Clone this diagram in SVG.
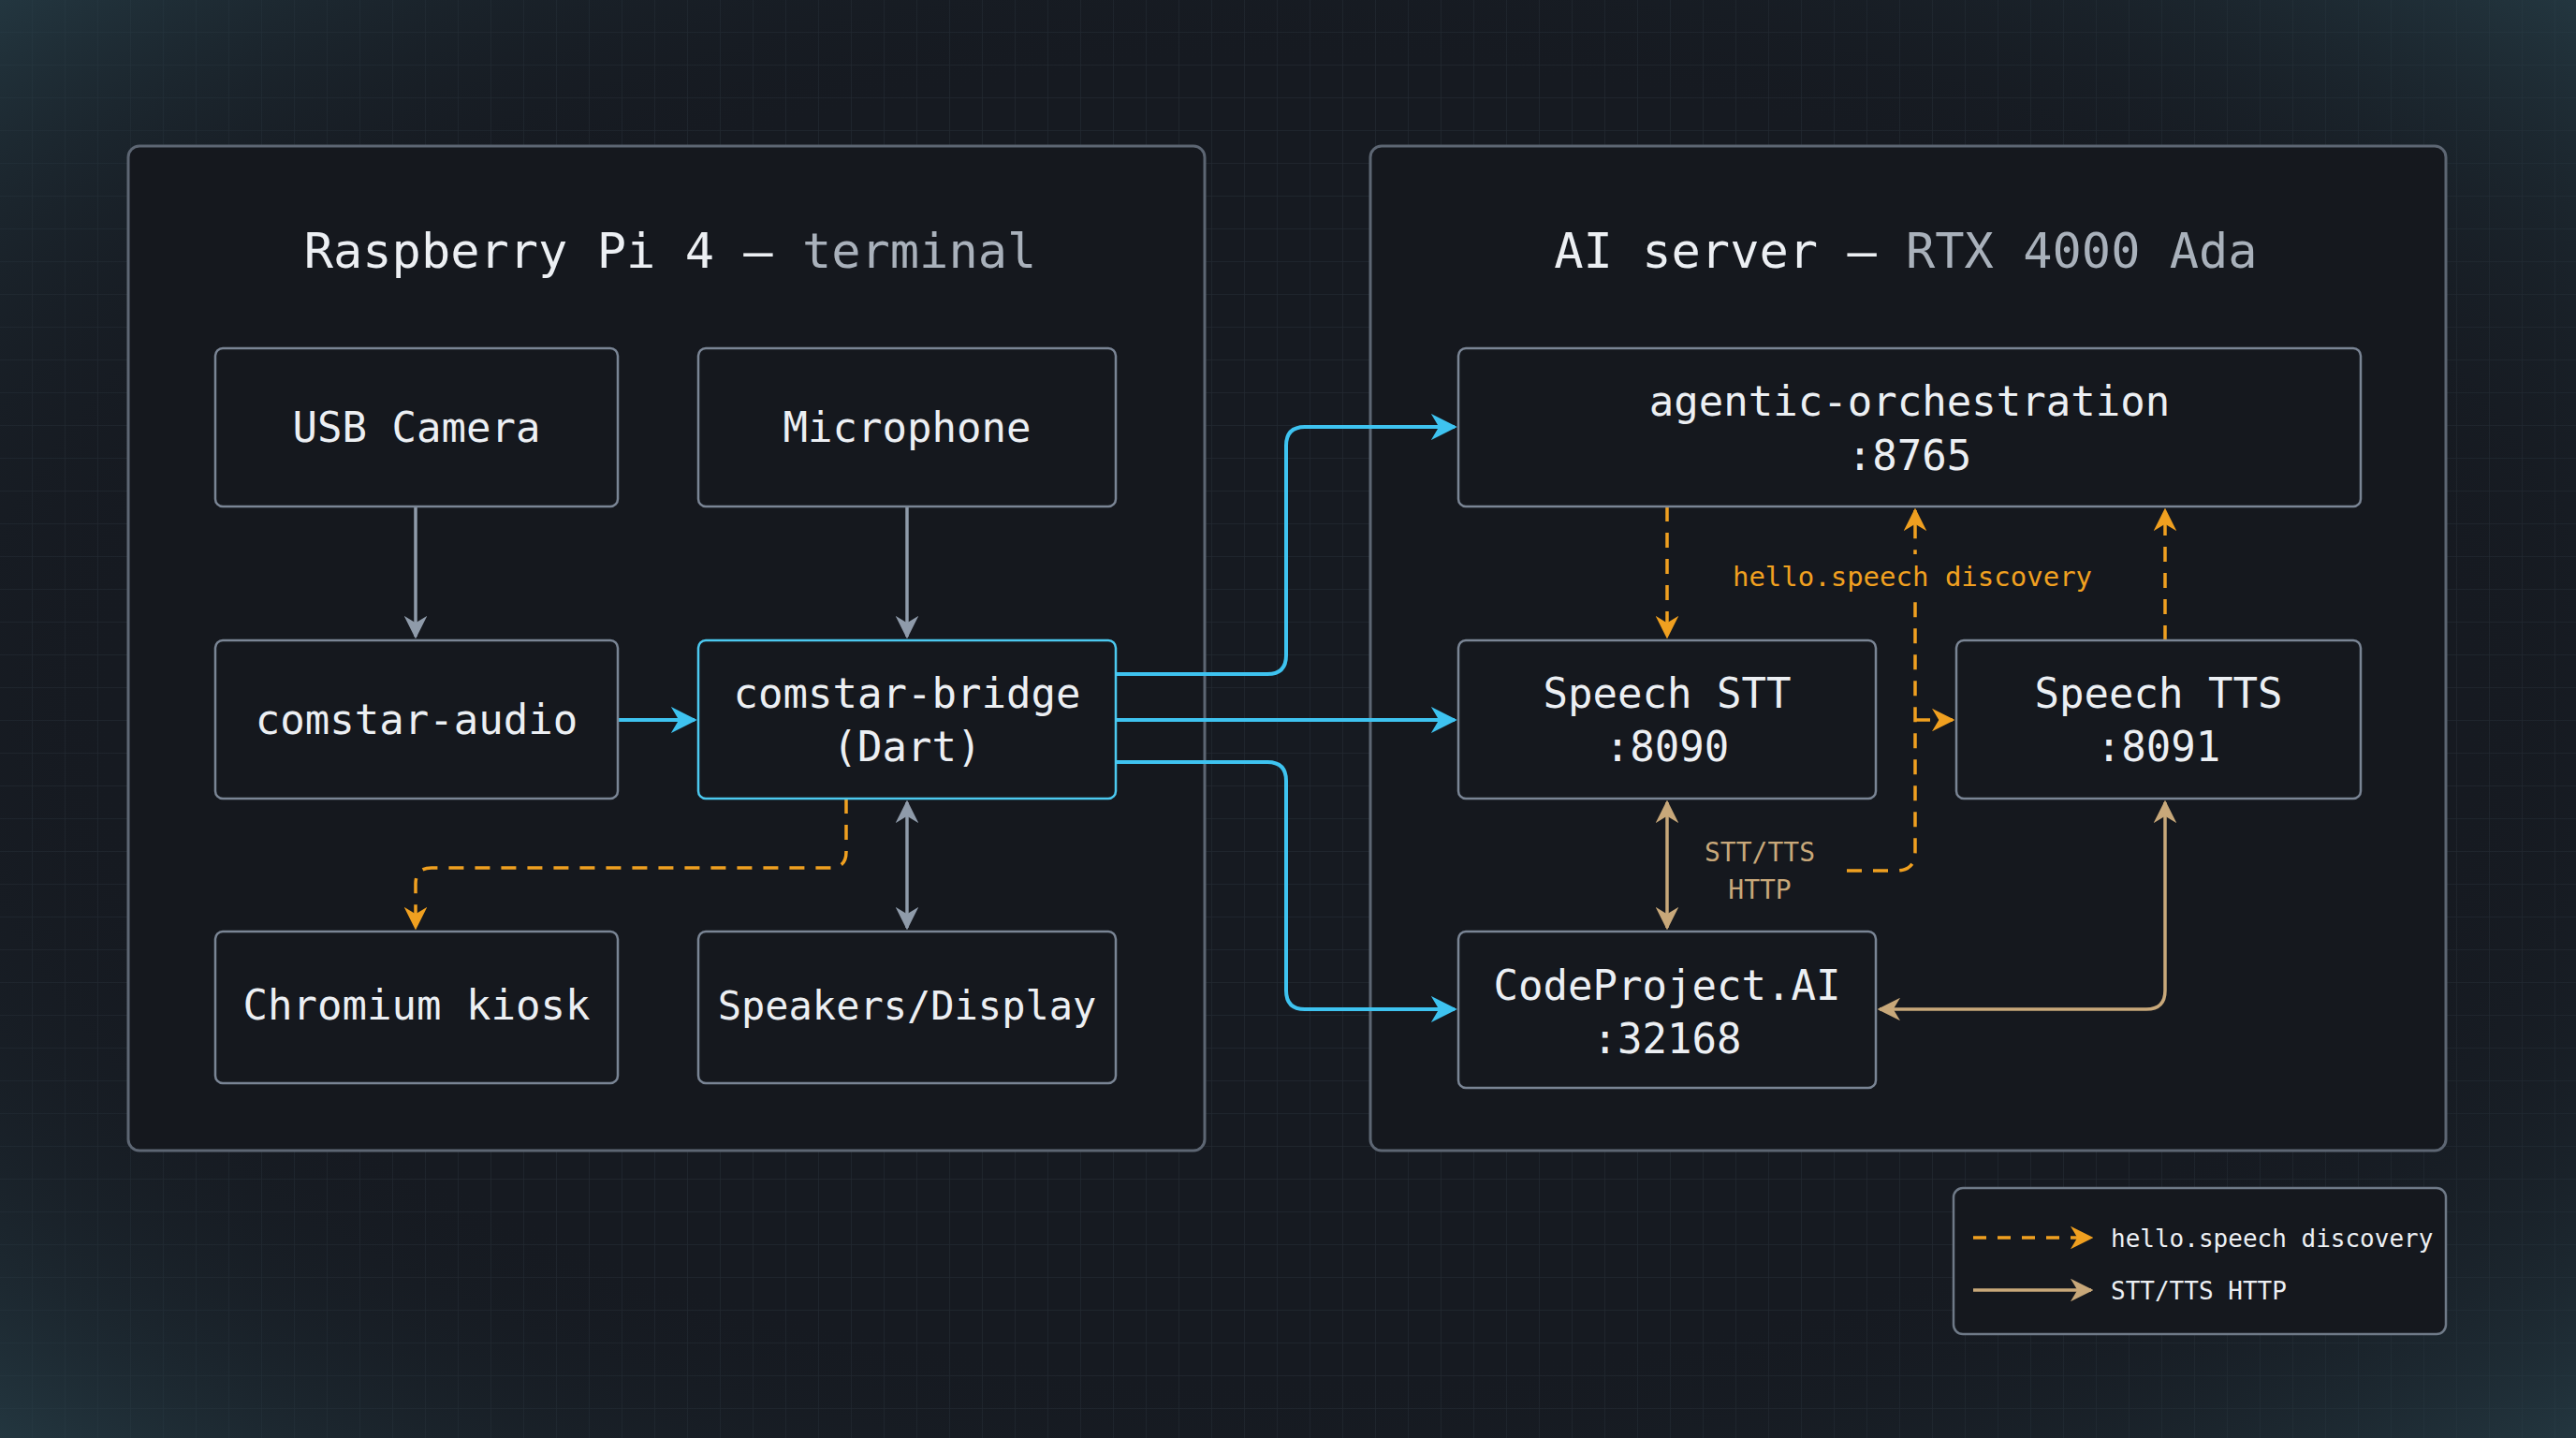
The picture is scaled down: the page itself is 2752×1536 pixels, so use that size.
<svg xmlns="http://www.w3.org/2000/svg" width="2752" height="1536" viewBox="0 0 2752 1536">
<defs>
<pattern id="grid" width="35" height="35" patternUnits="userSpaceOnUse"><path d="M35 0V35H0" fill="none" stroke="#2a323c" stroke-width="1.5" opacity="0.6"/></pattern>
<radialGradient id="vig" cx="50%" cy="50%" r="75%"><stop offset="60%" stop-color="#161a21" stop-opacity="0"/><stop offset="100%" stop-color="#2c4a55" stop-opacity="0.8"/></radialGradient>
<marker id="ac" viewBox="0 0 10 10" refX="9" refY="5" markerWidth="7" markerHeight="7" orient="auto-start-reverse"><path d="M0 0L10 5L0 10L3 5z" fill="#3ec3f0"/></marker>
<marker id="ag" viewBox="0 0 10 10" refX="9" refY="5" markerWidth="7" markerHeight="7" orient="auto-start-reverse"><path d="M0 0L10 5L0 10L3 5z" fill="#8f9baa"/></marker>
<marker id="ao" viewBox="0 0 10 10" refX="9" refY="5" markerWidth="7" markerHeight="7" orient="auto-start-reverse"><path d="M0 0L10 5L0 10L3 5z" fill="#f0a020"/></marker>
<marker id="at" viewBox="0 0 10 10" refX="9" refY="5" markerWidth="7" markerHeight="7" orient="auto-start-reverse"><path d="M0 0L10 5L0 10L3 5z" fill="#c8a87a"/></marker>
<style>
.panel{fill:#15181e;stroke:#5d6673;stroke-width:3}
.node{fill:#15181e;stroke:#7a8595;stroke-width:2.5}
.t{font-family:"DejaVu Sans Mono","Liberation Mono",monospace;fill:#eceff3;text-anchor:middle}
.nt{font-size:44px}
.ti{font-size:52px}
.c{fill:none;stroke:#3ec3f0;stroke-width:4}
.g{fill:none;stroke:#8f9baa;stroke-width:3.5}
.o{fill:none;stroke:#f0a020;stroke-width:3.5;stroke-dasharray:16 12}
.tn{fill:none;stroke:#c8a87a;stroke-width:3.5}
</style>
</defs>
<rect width="2752" height="1536" fill="#161a21"/>
<rect width="2752" height="1536" fill="url(#grid)"/>
<rect width="2752" height="1536" fill="url(#vig)"/>

<g id="panel-pi"><rect class="panel" x="137" y="156" width="1150" height="1073" rx="12"/>
<text class="t ti" x="716" y="286">Raspberry Pi 4 — <tspan fill="#a9b1bb">terminal</tspan></text></g>
<g id="panel-ai"><rect class="panel" x="1464" y="156" width="1149" height="1073" rx="12"/>
<text class="t ti" x="2036" y="286">AI server — <tspan fill="#a9b1bb">RTX 4000 Ada</tspan></text></g>

<g id="connectors">
<path class="g" d="M444 541V680" marker-end="url(#ag)"/>
<path class="g" d="M969 541V680" marker-end="url(#ag)"/>
<path class="c" d="M660 769H742" marker-end="url(#ac)"/>
<path class="g" d="M969 857V991" marker-start="url(#ag)" marker-end="url(#ag)"/>
<path class="o" d="M904 853V910Q904 927 887 927H461Q444 927 444 944V991" marker-end="url(#ao)"/>
<path class="c" d="M1192 720H1354Q1374 720 1374 700V476Q1374 456 1394 456H1554" marker-end="url(#ac)"/>
<path class="c" d="M1192 769H1554" marker-end="url(#ac)"/>
<path class="c" d="M1192 814H1354Q1374 814 1374 834V1058Q1374 1078 1394 1078H1554" marker-end="url(#ac)"/>
<path class="o" d="M1781 541V680" marker-end="url(#ao)"/>
<path class="o" d="M1973 930H2026Q2046 930 2046 910V545" marker-end="url(#ao)"/>
<path class="o" d="M2046 769H2086" marker-end="url(#ao)"/>
<path class="o" d="M2313 684V545" marker-end="url(#ao)"/>
<path class="tn" d="M1781 857V991" marker-start="url(#at)" marker-end="url(#at)"/>
<path class="tn" d="M2313 857V1058Q2313 1078 2293 1078H2008" marker-start="url(#at)" marker-end="url(#at)"/>
<rect x="1840" y="592" width="406" height="46" fill="#15181e"/>
<text class="t" x="2043" y="626" font-size="29" style="fill:#f0a020">hello.speech discovery</text>
<text class="t" x="1880" y="920" font-size="28" style="fill:#c8a87a">STT/TTS</text>
<text class="t" x="1880" y="960" font-size="28" style="fill:#c8a87a">HTTP</text>
</g>

<g id="usb-camera"><rect class="node" x="230" y="372" width="430" height="169" rx="8"/><text class="t nt" x="445" y="472">USB Camera</text></g>
<g id="microphone"><rect class="node" x="746" y="372" width="446" height="169" rx="8"/><text class="t nt" x="969" y="472">Microphone</text></g>
<g id="comstar-audio"><rect class="node" x="230" y="684" width="430" height="169" rx="8"/><text class="t nt" x="445" y="784">comstar-audio</text></g>
<g id="comstar-bridge"><rect class="node" x="746" y="684" width="446" height="169" rx="8" style="stroke:#4cc9f0"/><text class="t nt" x="969" y="756">comstar-bridge</text><text class="t nt" x="969" y="813">(Dart)</text></g>
<g id="chromium-kiosk"><rect class="node" x="230" y="995" width="430" height="162" rx="8"/><text class="t nt" x="445" y="1089">Chromium kiosk</text></g>
<g id="speakers-display"><rect class="node" x="746" y="995" width="446" height="162" rx="8"/><text class="t" x="969" y="1089" font-size="42">Speakers/Display</text></g>
<g id="agentic"><rect class="node" x="1558" y="372" width="964" height="169" rx="8"/><text class="t nt" x="2040" y="444">agentic-orchestration</text><text class="t nt" x="2040" y="502">:8765</text></g>
<g id="speech-stt"><rect class="node" x="1558" y="684" width="446" height="169" rx="8"/><text class="t nt" x="1781" y="756">Speech STT</text><text class="t nt" x="1781" y="813">:8090</text></g>
<g id="speech-tts"><rect class="node" x="2090" y="684" width="432" height="169" rx="8"/><text class="t nt" x="2306" y="756">Speech TTS</text><text class="t nt" x="2306" y="813">:8091</text></g>
<g id="codeproject"><rect class="node" x="1558" y="995" width="446" height="167" rx="8"/><text class="t nt" x="1781" y="1068">CodeProject.AI</text><text class="t nt" x="1781" y="1125">:32168</text></g>

<g id="legend"><rect class="node" x="2087" y="1269" width="526" height="156" rx="10" style="stroke:#6f7a88"/>
<path class="o" d="M2108 1322H2234" marker-end="url(#ao)" style="stroke-dasharray:14 12"/>
<path class="tn" d="M2108 1378H2234" marker-end="url(#at)"/>
<text class="t" x="2255" y="1332" font-size="26" style="text-anchor:start">hello.speech discovery</text>
<text class="t" x="2255" y="1388" font-size="26" style="text-anchor:start">STT/TTS HTTP</text></g>
</svg>
